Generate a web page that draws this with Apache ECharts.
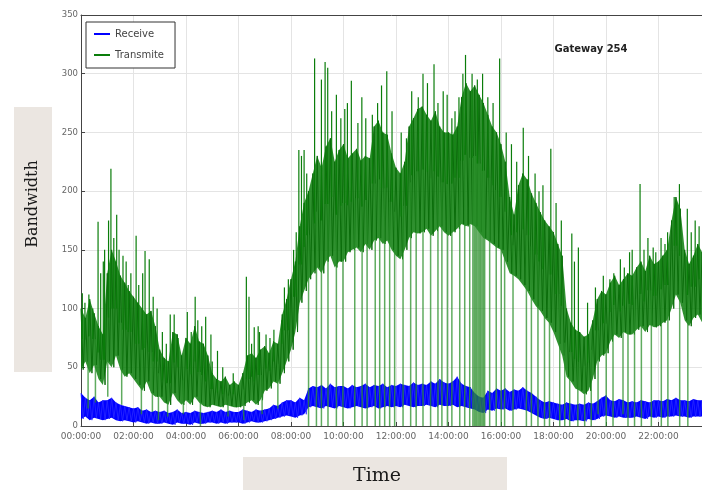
<!DOCTYPE html>
<html><head><meta charset="utf-8">
<script src="https://cdn.jsdelivr.net/npm/echarts@6/dist/echarts.min.js"></script>
<style>html,body{margin:0;padding:0;background:#fff}#c{width:702px;height:490px}</style>
</head><body><div id="c"></div>
<script>
// ---- tick labels ----
const xTickLabels = ['00:00:00','02:00:00','04:00:00','06:00:00','08:00:00','10:00:00','12:00:00','14:00:00','16:00:00','18:00:00','20:00:00','22:00:00'];
const yTickValues = [0,50,100,150,200,250,300,350];
const binHours = 1/6; // 10-minute samples

// ---- Transmite (green): upper / lower edge of the dense band per 10-min sample ----
const gHi = [
 100,92,108,96,85,78,   130,150,140,128,122,115,  110,105,100,95,98,85,   65,58,55,80,78,60,
 75,70,85,72,70,60,     45,40,38,42,35,38,        35,45,60,62,58,65,      68,62,72,70,95,108,
 125,140,170,190,200,215, 230,220,238,245,225,235, 240,228,232,236,226,230, 228,255,260,250,248,232,
 220,215,225,255,262,270, 272,265,260,268,255,250, 250,248,255,280,292,285, 290,282,275,265,255,250,
 240,225,195,180,205,215, 210,198,190,182,175,170, 165,155,145,100,88,82,  80,76,78,90,108,115,
 112,122,128,120,125,130, 128,135,140,132,145,138, 140,145,150,175,195,185, 150,138,145,155,148
];
const gLo = [
 48,55,45,52,40,35,     55,50,60,48,42,45,        40,35,30,38,28,25,      25,20,18,28,22,18,
 22,18,25,20,17,16,     18,17,16,18,17,16,        16,17,20,22,18,22,      30,32,38,36,45,55,
 65,80,105,115,125,130, 135,130,140,145,135,140,  140,148,150,152,148,155, 150,158,160,155,158,150,
 145,142,150,160,165,164, 165,168,162,166,170,165, 162,165,168,172,170,172, 170,165,160,158,155,152,
 150,140,130,128,125,120, 115,108,102,98,92,88,    80,70,60,42,38,32,      30,27,30,40,55,60,
 62,72,78,75,80,78,     78,82,85,80,86,84,        85,88,90,100,112,105,   90,85,92,95,88
];
// single-sample peaks [hour, value]
const gSpikes = [
 [0.05,113],[0.15,105],[0.3,112],[0.45,100],[0.65,174],[0.75,130],[0.85,140],[0.9,150],[1.05,175],
 [1.14,219],[1.25,160],[1.36,180],[1.45,150],[1.6,145],[1.72,140],[1.8,120],[1.9,130],[2.1,162],
 [2.2,120],[2.35,130],[2.44,149],[2.6,142],[2.75,110],[2.9,100],[3.1,80],[3.25,70],[3.4,95],[3.55,95],
 [3.7,75],[4.05,97],[4.2,80],[4.35,110],[4.45,90],[4.6,85],[4.75,93],[4.95,78],[5.0,55],[5.2,64],
 [5.4,50],[5.8,45],[6.3,127],[6.4,110],[6.5,70],[6.6,84],[6.75,85],[6.8,80],[7.05,78],[7.2,75],
 [7.35,82],[7.65,90],[7.75,118],[7.9,125],[8.1,150],[8.2,165],[8.3,235],[8.4,230],[8.5,235],[8.6,215],
 [8.9,313],[9.16,295],[9.3,310],[9.4,305],[9.55,268],[9.73,282],[9.9,262],[10.05,270],[10.15,275],
 [10.3,294],[10.55,258],[10.7,280],[10.85,262],[11.1,265],[11.3,275],[11.45,290],[11.65,302],[11.85,268],
 [12.2,250],[12.4,245],[12.6,285],[12.85,280],[13.03,300],[13.2,292],[13.45,308],[13.6,275],[13.8,285],
 [13.95,282],[14.13,262],[14.25,268],[14.4,280],[14.55,300],[14.65,316],[14.9,300],[15.1,295],[15.3,300],
 [15.5,280],[15.7,275],[15.95,313],[16.2,250],[16.4,240],[16.6,225],[16.85,254],[17.05,230],[17.3,215],
 [17.45,200],[17.6,205],[17.9,236],[18.1,190],[18.3,175],[18.7,164],[18.8,140],[18.95,152],[19.3,105],
 [19.6,118],[19.9,128],[20.15,125],[20.3,130],[20.55,142],[20.7,135],[20.9,148],[21.0,150],[21.3,206],
 [21.45,150],[21.6,160],[21.8,152],[21.9,148],[22.1,160],[22.25,155],[22.35,165],[22.6,195],[22.7,190],
 [22.8,206],[23.1,185],[23.25,165],[23.4,175],[23.55,170]
];
// single-sample drop-outs [hour, value]
const gDrops = [
 [0.27,15],[0.55,20],[1.02,25],[1.55,18],[2.3,10],[2.72,12],[2.95,5],[3.3,8],[3.9,10],[4.55,0],
 [5.6,8],[6.2,5],[6.9,10],[7.5,15],
 [8.67,0],[8.97,0],[9.16,0],[9.41,0],[9.73,0],[9.98,0],[10.43,0],[10.71,0],[10.9,0],[11.21,0],
 [11.38,0],[11.57,0],[11.76,0],[11.95,0],[12.27,0],[12.56,0],[12.77,0],[13.03,0],[13.32,0],[13.6,0],
 [13.75,0],[13.96,0],[14.13,0],[14.43,0],[14.62,0],[14.81,0],[14.93,0],[14.98,0],[15.03,0],[15.08,0],
 [15.13,0],[15.18,0],[15.23,0],[15.28,0],[15.33,0],[15.38,0],[15.57,0],[15.82,0],[16.01,0],[16.14,0],
 [16.46,0],[16.97,0],[17.16,0],[17.41,0],[17.66,0],[17.85,0],[18.24,0],[18.43,0],[18.62,0],[18.93,0],
 [19.19,0],[19.44,0],[19.7,10],[20.01,0],[20.27,0],[20.65,10],[20.84,0],[21.09,0],[21.35,0],[21.73,0],
 [22.11,0],[22.36,0],[22.81,0],[23.12,0]
];

// ---- Receive (blue): upper / lower edge per 10-min sample ----
const bHi = [
 28,24,22,25,20,22, 22,24,20,18,17,16, 15,16,13,14,12,13, 12,13,11,12,14,11,
 12,11,13,12,11,12, 13,12,14,12,13,12, 12,14,13,12,14,13, 14,15,18,17,20,22,
 22,20,24,22,32,34, 33,35,32,36,33,34, 34,32,35,33,34,36, 33,35,34,36,33,35,
 34,36,35,34,37,35, 36,35,38,36,40,37, 36,38,42,36,34,33, 28,25,24,30,28,32,
 30,32,29,31,30,33, 30,28,25,22,20,21, 20,19,18,20,19,18, 19,18,20,19,21,24,
 26,22,21,23,22,20, 21,20,22,21,20,22, 22,21,23,22,24,22, 22,21,23,22,22
];
const bLo = [
 6,8,5,7,6,5,   6,7,5,4,5,4,   3,4,3,2,3,2,   2,3,2,1,3,2,
 2,1,3,2,2,3,   3,2,3,2,3,3,   3,2,3,4,3,3,   4,5,6,7,8,9,
 8,7,9,10,16,17, 16,15,17,16,15,17, 16,15,16,17,16,15, 16,17,15,16,17,16,
 17,16,18,17,16,17, 17,18,17,16,18,17, 17,18,16,17,16,15, 14,12,11,14,13,15,
 14,15,13,14,15,14, 13,11,9,7,6,7, 6,5,5,6,4,5, 5,4,6,5,6,8,
 9,8,7,8,7,7, 7,8,7,6,8,7, 8,7,8,8,9,8, 8,7,8,8,8
];

const GREEN = '#0a7d0a', BLUE = '#0000ff';
const XMAX = 23.66;

function bandRenderer(hi, lo, fill, opacity) {
  return function (params, api) {
    const top = [], bot = [];
    for (let i = 0; i < hi.length; i++) {
      top.push(api.coord([i * binHours, hi[i]]));
      bot.push(api.coord([i * binHours, lo[i]]));
    }
    return {type: 'polygon', shape: {points: top.concat(bot.reverse())}, style: {fill: fill, opacity: opacity}};
  };
}
function zigzagRenderer(hi, lo, stroke, width) {
  return function (params, api) {
    const pts = [];
    for (let i = 0; i < hi.length; i++) {
      pts.push(api.coord([i * binHours, hi[i]]));
      pts.push(api.coord([i * binHours + binHours / 2, lo[i]]));
    }
    return {type: 'polyline', shape: {points: pts}, style: {stroke: stroke, lineWidth: width, fill: null}};
  };
}
function excursionRenderer(stroke, width, opacity) {
  return function (params, api) {
    const t = api.value(0), v = api.value(1);
    const i = Math.min(gHi.length - 1, Math.round(t / binHours));
    const mid = (gHi[i] + gLo[i]) / 2;
    const a = api.coord([t, mid]), b = api.coord([t, v]);
    return {type: 'line', shape: {x1: a[0], y1: a[1], x2: b[0], y2: b[1]},
      style: {stroke: stroke, lineWidth: width, opacity: opacity}};
  };
}

const chart = echarts.init(document.getElementById('c'), null, {renderer: 'canvas'});
chart.setOption({
  animation: false,
  backgroundColor: '#ffffff',
  grid: {left: 81, top: 15, right: 0, bottom: 64, containLabel: false},
  xAxis: [{
    type: 'value', min: 0, max: XMAX, interval: 2,
    axisLine: {show: true, lineStyle: {color: '#444', width: 1}},
    axisTick: {show: true, inside: true, length: 4, lineStyle: {color: '#444'}},
    axisLabel: {show: true, showMaxLabel: false, margin: 6, fontFamily: 'DejaVu Sans', fontSize: 9, color: '#666',
      formatter: v => xTickLabels[Math.round(v / 2)] || ''},
    splitLine: {show: true, lineStyle: {color: '#e4e4e4', width: 1}}
  }, {
    type: 'value', min: 0, max: XMAX, position: 'top',
    axisLine: {show: true, onZero: false, lineStyle: {color: '#444', width: 1}},
    axisTick: {show: false}, axisLabel: {show: false}, splitLine: {show: false}
  }],
  yAxis: {
    type: 'value', min: yTickValues[0], max: yTickValues[yTickValues.length - 1], interval: 50,
    axisLine: {show: true, lineStyle: {color: '#444', width: 1}},
    axisTick: {show: true, inside: true, length: 4, lineStyle: {color: '#444'}},
    axisLabel: {margin: 3, fontFamily: 'DejaVu Sans', fontSize: 8.5, color: '#666'},
    splitLine: {show: true, lineStyle: {color: '#e4e4e4', width: 1}}
  },
  legend: {
    data: ['Receive', 'Transmite'],
    orient: 'vertical', left: 86, top: 22,
    padding: [7, 11, 8, 8], itemGap: 11,
    itemWidth: 16, itemHeight: 2, icon: 'rect',
    borderColor: '#333', borderWidth: 1, borderRadius: 0, backgroundColor: '#fff',
    textStyle: {fontFamily: 'DejaVu Sans', fontSize: 10, color: '#444'}
  },
  graphic: [
    {type: 'rect', left: 14, top: 107, shape: {width: 38, height: 265}, style: {fill: '#ebe6e1'}, z: 100},
    {type: 'text', x: 33, y: 204, rotation: Math.PI / 2, z: 101,
      style: {text: 'Bandwidth', fill: '#1a1a1a', font: '16px "DejaVu Serif"', textAlign: 'center', textVerticalAlign: 'middle'}},
    {type: 'rect', left: 243, top: 457, shape: {width: 264, height: 33}, style: {fill: '#ebe6e1'}, z: 100},
    {type: 'text', x: 377, y: 476, z: 101,
      style: {text: 'Time', fill: '#1a1a1a', font: '19px "DejaVu Serif"', textAlign: 'center', textVerticalAlign: 'middle'}},
    {type: 'text', x: 591, y: 49, z: 101,
      style: {text: 'Gateway 254', fill: '#222', font: 'bold 10px "DejaVu Sans"', textAlign: 'center', textVerticalAlign: 'middle'}}
  ],
  series: [
    {name: 'Receive', type: 'custom', color: BLUE, data: [[0, 0]], silent: true, z: 3,
      renderItem: bandRenderer(bHi, bLo, BLUE, 1)},
    {name: 'Transmite', type: 'custom', color: GREEN, data: [[0, 0]], silent: true, z: 2,
      renderItem: bandRenderer(gHi, gLo, GREEN, 0.85)},
    {name: 'gTexture', type: 'custom', data: [[0, 0]], silent: true, z: 2,
      renderItem: zigzagRenderer(gHi, gLo, '#0b6e0b', 1)},
    {name: 'bTexture', type: 'custom', data: [[0, 0]], silent: true, z: 3,
      renderItem: zigzagRenderer(bHi, bLo, '#2a2aff', 0.8)},
    {name: 'gDrops', type: 'custom', data: gDrops, silent: true, z: 4,
      renderItem: excursionRenderer('#2a8f2a', 1.5, 0.75)},
    {name: 'gSpikes', type: 'custom', data: gSpikes, silent: true, z: 4,
      renderItem: excursionRenderer(GREEN, 1.2, 1)}
  ]
});
</script>
</body></html>
